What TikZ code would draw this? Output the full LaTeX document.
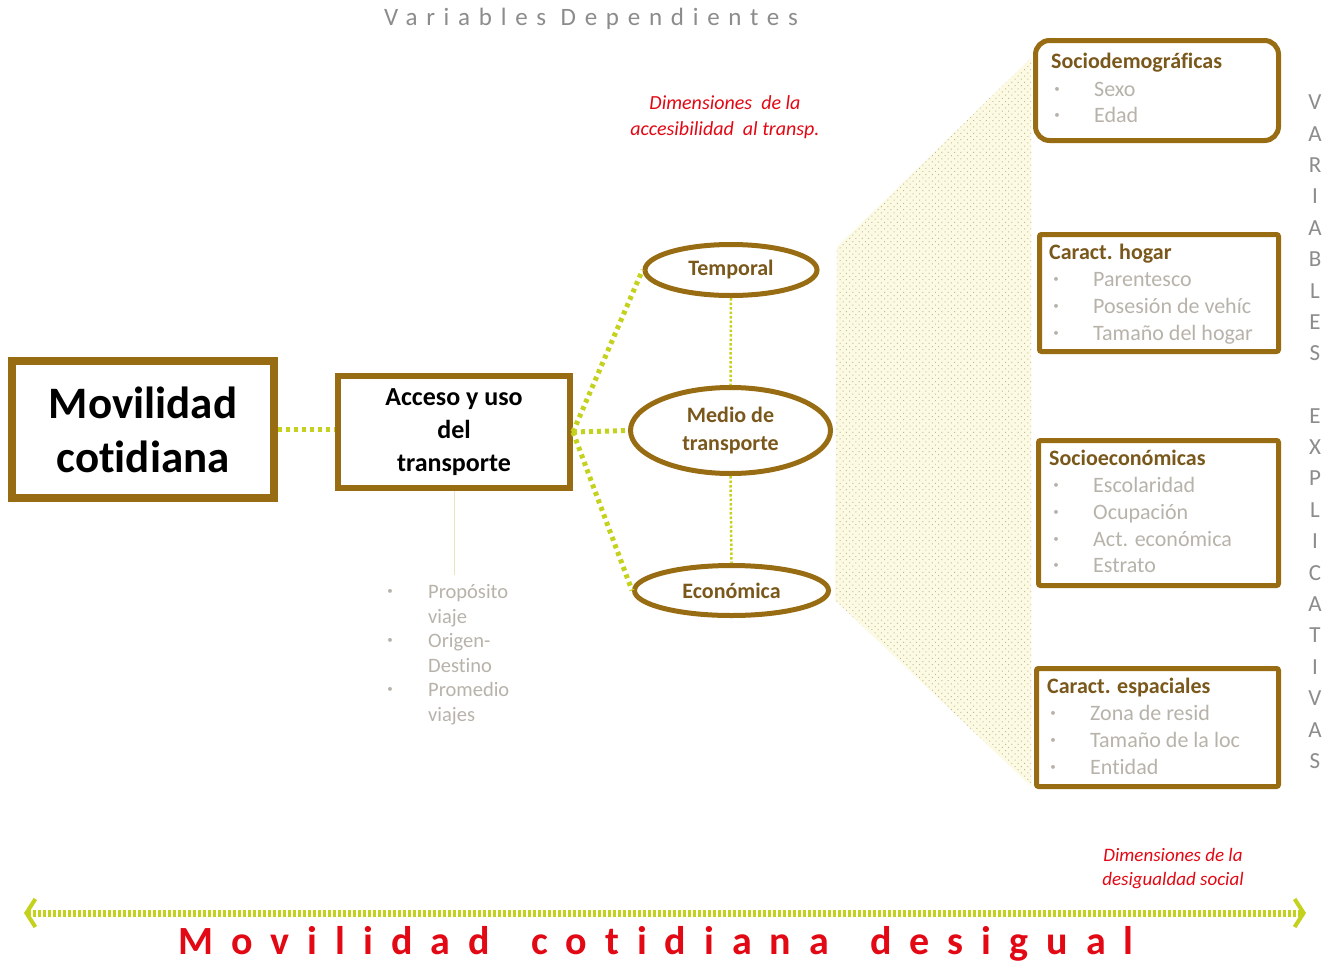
\documentclass[tikz,border=0pt]{standalone}
\usepackage{fontspec}
\setmainfont{Carlito}[Ligatures=NoCommon]
\usetikzlibrary{shapes.geometric,arrows.meta,patterns.meta}
\definecolor{brn}{RGB}{152,108,18}
\definecolor{brntxt}{RGB}{122,88,28}
\definecolor{lime}{RGB}{196,210,30}
\definecolor{itemgray}{RGB}{184,179,170}
\definecolor{capgray}{RGB}{140,140,140}
\definecolor{accred}{RGB}{226,8,20}
\definecolor{fanfill}{RGB}{252,250,226}
\definecolor{fandot}{RGB}{190,186,150}
\definecolor{stemcol}{RGB}{236,226,190}
\begin{document}
\begin{tikzpicture}[x=1pt,y=-1pt,
  mainbox/.style={draw=brn,line width=8pt,fill=white,inner sep=0pt,align=center,minimum width=262pt,minimum height=137pt,font=\bfseries\fontsize{45}{54}\selectfont},
  accbox/.style={draw=brn,line width=6pt,fill=white,inner sep=0pt,align=center,minimum width=232pt,minimum height=112pt,font=\bfseries\fontsize{26}{33}\selectfont},
  dimell/.style={ellipse,draw=brn,line width=5pt,fill=white,inner sep=0pt,align=center,text=brntxt,font=\bfseries\fontsize{22}{28}\selectfont},
  varbox/.style={draw=brn,line width=5pt,inner sep=0pt},
  vtitle/.style={anchor=base west,inner sep=0pt,text=brntxt,font=\bfseries\fontsize{22}{27}\selectfont},
  vitem/.style={anchor=base west,inner sep=0pt,text=itemgray,font=\fontsize{22}{27}\selectfont},
  vbul/.style={inner sep=0pt,text=itemgray,font=\fontsize{11}{11}\selectfont},
  litem/.style={anchor=base west,inner sep=0pt,text=itemgray,font=\fontsize{20.5}{24}\selectfont},
  limedots/.style={draw=lime,line width=5pt,dash pattern=on 4pt off 4pt},
  limefine/.style={draw=lime,line width=2.5pt,dash pattern=on 2.5pt off 2pt},
  redlabel/.style={text=accred,align=center,inner sep=0pt,font=\itshape\fontsize{20}{26}\selectfont},
  vertword/.style={text=capgray,align=center,inner sep=0pt,font=\fontsize{23}{31.4}\selectfont}
]
\fill[white] (0,0) rectangle (1331,967);
\useasboundingbox (0,0) rectangle (1331,967);

% dotted fan behind the explanatory variables
\fill[fanfill] (837,247) -- (1031,58) -- (1031,786) -- (835,600) -- cycle;
\fill[pattern={Dots[distance=4.5pt,radius=0.7pt,angle=45]},pattern color=fandot]
  (837,247) -- (1031,58) -- (1031,786) -- (835,600) -- cycle;

% headings
\node[text=capgray,font=\fontsize{25}{28}\selectfont\addfontfeatures{LetterSpace=35}] (vdep) at (591,19) {Variables Dependientes};
\node[redlabel] (dimA) at (725,117) {Dimensiones~ de la\\accesibilidad~ al transp.};

% main chain
\node[mainbox] (mov) at (143,429.5) {Movilidad\\cotidiana};
\node[accbox] (acc) at (454,432) {Acceso y uso\\del\\transporte};

\node[dimell,minimum width=172pt,minimum height=51pt] (tem) at (731,270) {Temporal};
\node[dimell,minimum width=200pt,minimum height=86pt] (med) at (730.5,430.5) {Medio de\\transporte};
\node[dimell,minimum width=194pt,minimum height=50pt] (eco) at (731.5,590.5) {Económica};

\draw[limedots] (mov.east) -- (mov.east -| acc.west);
\draw[limedots] (acc.east) -- (med.west);
\draw[limedots] (acc.east) -- (tem.west);
\draw[limedots] (acc.east) -- (eco.west);
\draw[limefine] (tem.south) -- (med.north);
\draw[limefine] (med.south) -- (eco.north);

% trip variables under the access box
\coordinate (stemEnd) at (454,575);
\draw[stemcol,line width=1pt] (acc.south) -- (stemEnd);
\foreach \w/\y [count=\i] in {Propósito/592,viaje/617,Origen-/641,Destino/666,Promedio/690,viajes/715}{
  \node[litem] (tv\i) at (428,\y+6) {\w};
}
\foreach \y [count=\i] in {592,641,690}{
  \node[vbul] (tb\i) at (390,\y) {•};
}

% explanatory variable boxes
\node[varbox,rounded corners=14pt,minimum width=243pt,minimum height=100pt] (sd) at (1157,90.5) {};
\node[varbox,rounded corners=2pt,minimum width=239pt,minimum height=117pt] (ho) at (1159,293) {};
\node[varbox,rounded corners=2pt,minimum width=240pt,minimum height=145pt] (se) at (1158.5,513) {};
\node[varbox,rounded corners=2pt,minimum width=242pt,minimum height=118pt] (es) at (1157.5,727.5) {};

\node[vtitle] (sdT) at (1051,68) {Sociodemográficas};
\foreach \w/\y [count=\i] in {Sexo/90,Edad/116}{
  \node[vbul] (sdB\i) at (1057,\y) {•};
  \node[vitem] (sdI\i) at (1094,\y+6) {\w};
}
\node[vtitle] (hoT) at (1049,259) {Caract. hogar};
\foreach \w/\y [count=\i] in {Parentesco/280,Posesión de vehíc/307,Tamaño del hogar/334}{
  \node[vbul] (hoB\i) at (1056,\y) {•};
  \node[vitem] (hoI\i) at (1093,\y+6) {\w};
}
\node[vtitle] (seT) at (1049,465) {Socioeconómicas};
\foreach \w/\y [count=\i] in {Escolaridad/486,Ocupación/513,Act. económica/540,Estrato/566}{
  \node[vbul] (seB\i) at (1056,\y) {•};
  \node[vitem] (seI\i) at (1093,\y+6) {\w};
}
\node[vtitle] (esT) at (1047,693) {Caract. espaciales};
\foreach \w/\y [count=\i] in {Zona de resid/714,Tamaño de la loc/741,Entidad/768}{
  \node[vbul] (esB\i) at (1053,\y) {•};
  \node[vitem] (esI\i) at (1090,\y+6) {\w};
}

% vertical caption
\node[vertword] (vv) at (1315,228) {V\\A\\R\\I\\A\\B\\L\\E\\S};
\node[vertword] (ve) at (1315,588.5) {E\\X\\P\\L\\I\\C\\A\\T\\I\\V\\A\\S};

% bottom axis
\node[redlabel,font=\itshape\fontsize{19}{24}\selectfont] (dimB) at (1173,869) {Dimensiones de la\\desigualdad social};
\coordinate (al) at (24,913);
\coordinate (ar) at (1306,913);
\draw[draw=lime,line width=7pt,dash pattern=on 2.5pt off 2.5pt,
  {Straight Barb[length=9pt,width=28pt,line width=4pt]}-{Straight Barb[length=9pt,width=28pt,line width=4pt]}] (al) -- (ar);
\node[text=accred,font=\bfseries\fontsize{40}{44}\selectfont\addfontfeatures{LetterSpace=45}] (mcd) at (656,944) {Movilidad\hspace{14pt} cotidiana\hspace{14pt} desigual};
\end{tikzpicture}
\end{document}
